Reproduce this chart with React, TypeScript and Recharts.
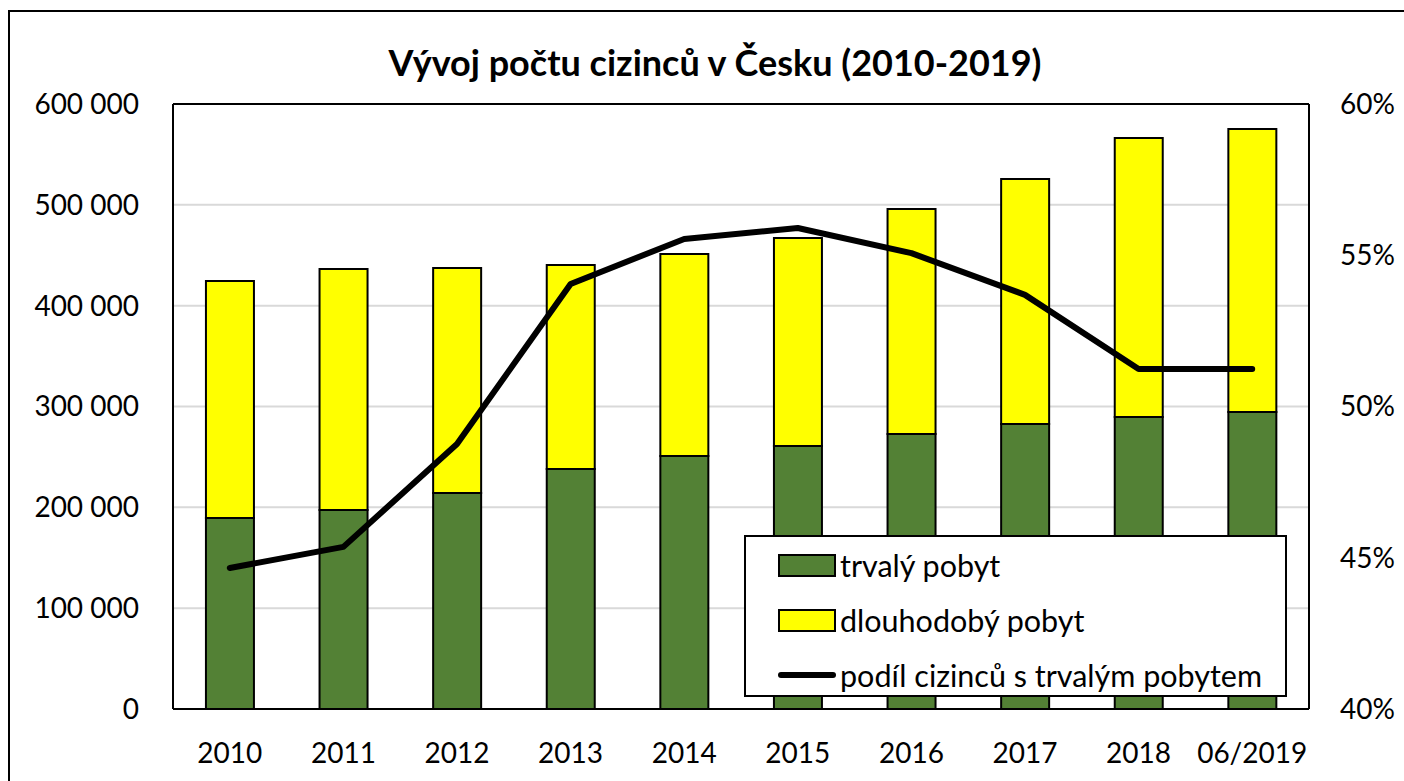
import React from 'react';
import {
  ComposedChart, Bar, Line, XAxis, YAxis, CartesianGrid, ReferenceLine,
} from 'recharts';

const categories = ['2010', '2011', '2012', '2013', '2014', '2015', '2016', '2017', '2018', '06/2019'];
const trvalyPobyt = [189400, 197400, 214200, 238000, 250900, 260800, 272700, 282700, 289600, 294500];
const dlouhodobyPobyt = [235100, 239000, 223200, 202300, 200400, 206300, 223200, 242900, 276700, 280700];
const podilTrvaly = [0.4466, 0.4536, 0.4876, 0.5405, 0.5554, 0.559, 0.5507, 0.5369, 0.5124, 0.5124];

const leftTicks = [0, 100000, 200000, 300000, 400000, 500000, 600000];
const rightTicks = [0.4, 0.45, 0.5, 0.55, 0.6];

const seriesNames = {
  trvaly: 'trvalý pobyt',
  dlouho: 'dlouhodobý pobyt',
  podil: 'podíl cizinců s trvalým pobytem',
};

const data = categories.map((c, i) => ({
  name: c,
  trvaly: trvalyPobyt[i],
  dlouho: dlouhodobyPobyt[i],
  podil: podilTrvaly[i],
}));

const FONT = 'Lato, "Open Sans", sans-serif';
const GREEN = '#538135';
const YELLOW = '#FFFF00';

const fmtThousands = (v: number) =>
  v === 0 ? '0' : String(v).replace(/\B(?=(\d{3})+(?!\d))/g, ' ');
const fmtPct = (v: number) => `${Math.round(v * 100)}%`;

const legendItems = [
  { key: 'trvaly', type: 'rect', color: GREEN },
  { key: 'dlouho', type: 'rect', color: YELLOW },
  { key: 'podil', type: 'line', color: '#000' },
];

const LegendBox = () => (
  <div
    style={{
      position: 'absolute',
      left: 744,
      top: 535,
      width: 543,
      height: 162,
      boxSizing: 'border-box',
      border: '2px solid #000',
      background: '#fff',
      fontFamily: FONT,
      fontSize: 30.5,
      color: '#000',
    }}
  >
    {legendItems.map((it, i) => (
      <div
        key={it.key}
        style={{
          position: 'absolute',
          left: 32,
          top: 13 + i * 55,
          height: 30,
          display: 'flex',
          alignItems: 'center',
          whiteSpace: 'nowrap',
        }}
      >
        {it.type === 'rect' ? (
          <div
            style={{
              width: 54,
              height: 19,
              background: it.color,
              border: '2px solid #000',
              marginRight: 4,
            }}
          />
        ) : (
          <div
            style={{
              width: 58,
              height: 6,
              background: '#000',
              borderRadius: 3,
              marginRight: 4,
            }}
          />
        )}
        <span style={{ lineHeight: '30px' }}>{seriesNames[it.key as keyof typeof seriesNames]}</span>
      </div>
    ))}
  </div>
);

export default function App() {
  return (
    <div
      style={{
        position: 'absolute',
        left: 0,
        top: 0,
        width: 1404,
        height: 781,
        overflow: 'hidden',
        background: '#fff',
      }}
    >
      <div
        style={{
          position: 'absolute',
          left: 8,
          top: 10,
          width: 1420,
          height: 820,
          border: '2px solid #000',
          boxSizing: 'border-box',
        }}
      />
      <div
        style={{
          position: 'absolute',
          left: 0,
          width: 1430,
          top: 40,
          textAlign: 'center',
          fontFamily: FONT,
          fontWeight: 700,
          fontSize: 36,
          lineHeight: '44px',
          color: '#000',
          whiteSpace: 'nowrap',
        }}
      >
        Vývoj počtu cizinců v Česku (2010-2019)
      </div>
      <div style={{ position: 'absolute', left: 0, top: 0 }}>
        <ComposedChart
          width={1404}
          height={781}
          data={data}
          margin={{ top: 104, right: 0, bottom: 0, left: 0 }}
          barCategoryGap="29%"
        >
          <CartesianGrid vertical={false} stroke="#d9d9d9" strokeWidth={2} yAxisId="left" />
          <XAxis
            dataKey="name"
            height={72}
            tickLine={false}
            tickSize={0}
            tickMargin={34}
            axisLine={{ stroke: '#000', strokeWidth: 2 }}
            tick={{ fill: '#000', fontSize: 28, fontFamily: FONT }}
            interval={0}
          />
          <YAxis
            yAxisId="left"
            orientation="left"
            width={173}
            domain={[0, 600000]}
            ticks={leftTicks}
            tickFormatter={fmtThousands}
            tickLine={false}
            tickSize={0}
            tickMargin={34}
            axisLine={{ stroke: '#000', strokeWidth: 2 }}
            tick={{ fill: '#000', fontSize: 28, fontFamily: FONT }}
            interval={0}
          />
          <YAxis
            yAxisId="right"
            orientation="right"
            width={95}
            domain={[0.4, 0.6]}
            ticks={rightTicks}
            tickFormatter={fmtPct}
            tickLine={false}
            tickSize={0}
            tickMargin={31}
            axisLine={{ stroke: '#000', strokeWidth: 2 }}
            tick={{ fill: '#000', fontSize: 28, fontFamily: FONT, textAnchor: 'start' }}
            interval={0}
            allowDataOverflow
          />
          <Bar
            yAxisId="left"
            dataKey="trvaly"
            name={seriesNames.trvaly}
            stackId="a"
            fill={GREEN}
            stroke="#000"
            strokeWidth={2}
            isAnimationActive={false}
          />
          <Bar
            yAxisId="left"
            dataKey="dlouho"
            name={seriesNames.dlouho}
            stackId="a"
            fill={YELLOW}
            stroke="#000"
            strokeWidth={2}
            isAnimationActive={false}
          />
          <ReferenceLine yAxisId="left" y={600000} stroke="#000" strokeWidth={2} />
          <Line
            yAxisId="right"
            dataKey="podil"
            name={seriesNames.podil}
            type="linear"
            stroke="#000"
            strokeWidth={6}
            strokeLinecap="round"
            strokeLinejoin="round"
            dot={false}
            activeDot={false}
            isAnimationActive={false}
          />
        </ComposedChart>
      </div>
      <LegendBox />
    </div>
  );
}
